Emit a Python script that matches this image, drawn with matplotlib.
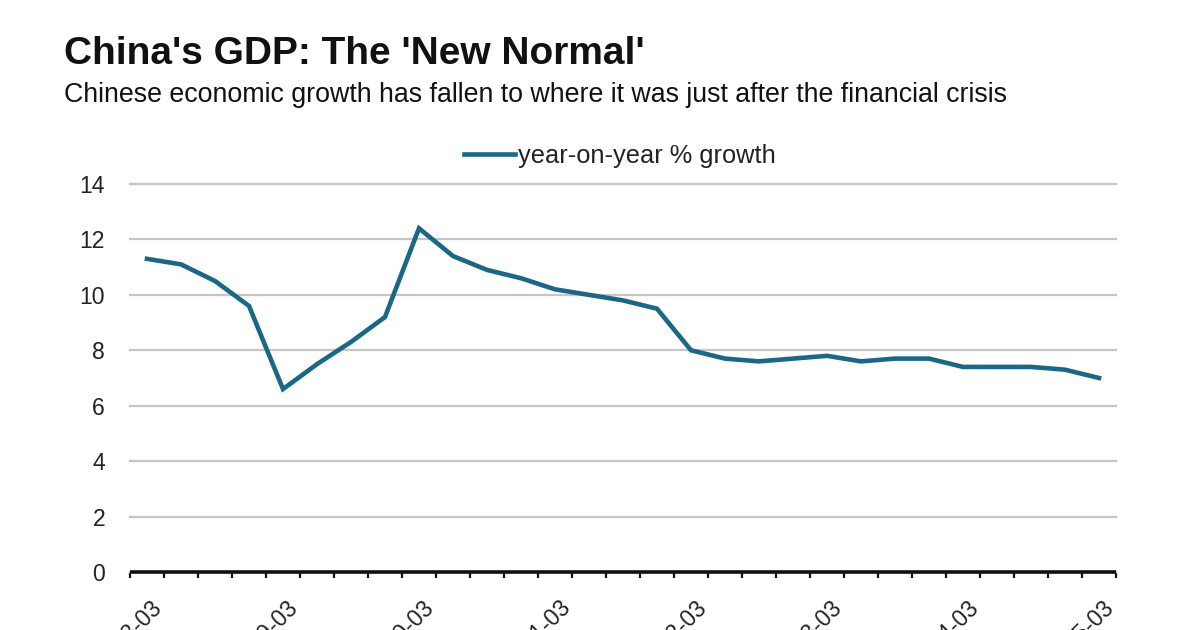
import matplotlib
matplotlib.use("Agg")
import matplotlib.pyplot as plt
from matplotlib.transforms import ScaledTranslation

# ---- data ----
quarters = ["2008-03", "2008-06", "2008-09", "2008-12",
            "2009-03", "2009-06", "2009-09", "2009-12",
            "2010-03", "2010-06", "2010-09", "2010-12",
            "2011-03", "2011-06", "2011-09", "2011-12",
            "2012-03", "2012-06", "2012-09", "2012-12",
            "2013-03", "2013-06", "2013-09", "2013-12",
            "2014-03", "2014-06", "2014-09", "2014-12",
            "2015-03"]
growth = [11.3, 11.1, 10.5, 9.6,
          6.6, 7.5, 8.3, 9.2,
          12.4, 11.4, 10.9, 10.6,
          10.2, 10.0, 9.8, 9.5,
          8.0, 7.7, 7.6, 7.7,
          7.8, 7.6, 7.7, 7.7,
          7.4, 7.4, 7.4, 7.3,
          7.0]
y_ticks = [0, 2, 4, 6, 8, 10, 12, 14]
series_name = "year-on-year % growth"
title = "China's GDP: The 'New Normal'"
subtitle = "Chinese economic growth has fallen to where it was just after the financial crisis"

plt.rcParams['font.family'] = ['Liberation Sans', 'DejaVu Sans']

W, H, DPI = 1200, 630, 100
fig = plt.figure(figsize=(W / DPI, H / DPI), dpi=DPI)
fig.patch.set_facecolor('white')

ax = fig.add_axes([130 / W, 1 - 572 / H, (1116 - 130) / W, (572 - 184) / H])

x = list(range(len(quarters)))
line, = ax.plot(x, growth, color='#1b6787', lw=3.3, solid_joinstyle='miter',
                label=series_name, zorder=3)

ax.set_xlim(-0.5, len(quarters) - 0.5)
ax.set_ylim(0, 14)
ax.set_yticks(y_ticks)
ax.set_yticklabels([str(v) for v in y_ticks])
ax.yaxis.grid(True, color='#c6c6c6', lw=1.6)
for gl in ax.get_ygridlines():
    gl.set_clip_on(False)
ax.set_axisbelow(True)
ax.tick_params(axis='y', length=0, pad=18, labelsize=16.5, labelcolor='#222222')

for s in ['left', 'right', 'top']:
    ax.spines[s].set_visible(False)
ax.spines['bottom'].set_linewidth(2.6)
ax.spines['bottom'].set_color('#111111')
ax.spines['bottom'].set_capstyle('butt')
ax.spines['bottom'].set_zorder(4)

# labels every 4 quarters, ticks at category boundaries
lab_idx = x[::4]
ax.set_xticks(lab_idx)
ax.set_xticklabels([quarters[i] for i in lab_idx], rotation=45, ha='right',
                   va='top', rotation_mode='anchor')
ax.set_xticks([i - 0.5 for i in range(len(quarters) + 1)], minor=True)
ax.tick_params(axis='x', which='major', length=0, pad=17, labelsize=16.5,
               labelcolor='#222222')
ax.tick_params(axis='x', which='minor', length=4, width=1.6, color='#111111',
               direction='out')
offset = ScaledTranslation(4 / DPI, 0, fig.dpi_scale_trans)
for lbl in ax.get_xticklabels():
    lbl.set_transform(lbl.get_transform() + offset)

leg = fig.legend(handles=[line], loc='center', bbox_to_anchor=(620 / W, 1 - 156 / H),
                 frameon=False, fontsize=18.3, handlelength=2.0, handletextpad=0.1,
                 labelcolor='#222222')

fig.text(64 / W, 1 - 64 / H, title, fontsize=28, fontweight='bold',
         color='#111111', ha='left', va='baseline')
fig.text(64 / W, 1 - 102 / H, subtitle, fontsize=19.3, color='#111111',
         ha='left', va='baseline')

fig.savefig('out.png', dpi=DPI, facecolor='white')
